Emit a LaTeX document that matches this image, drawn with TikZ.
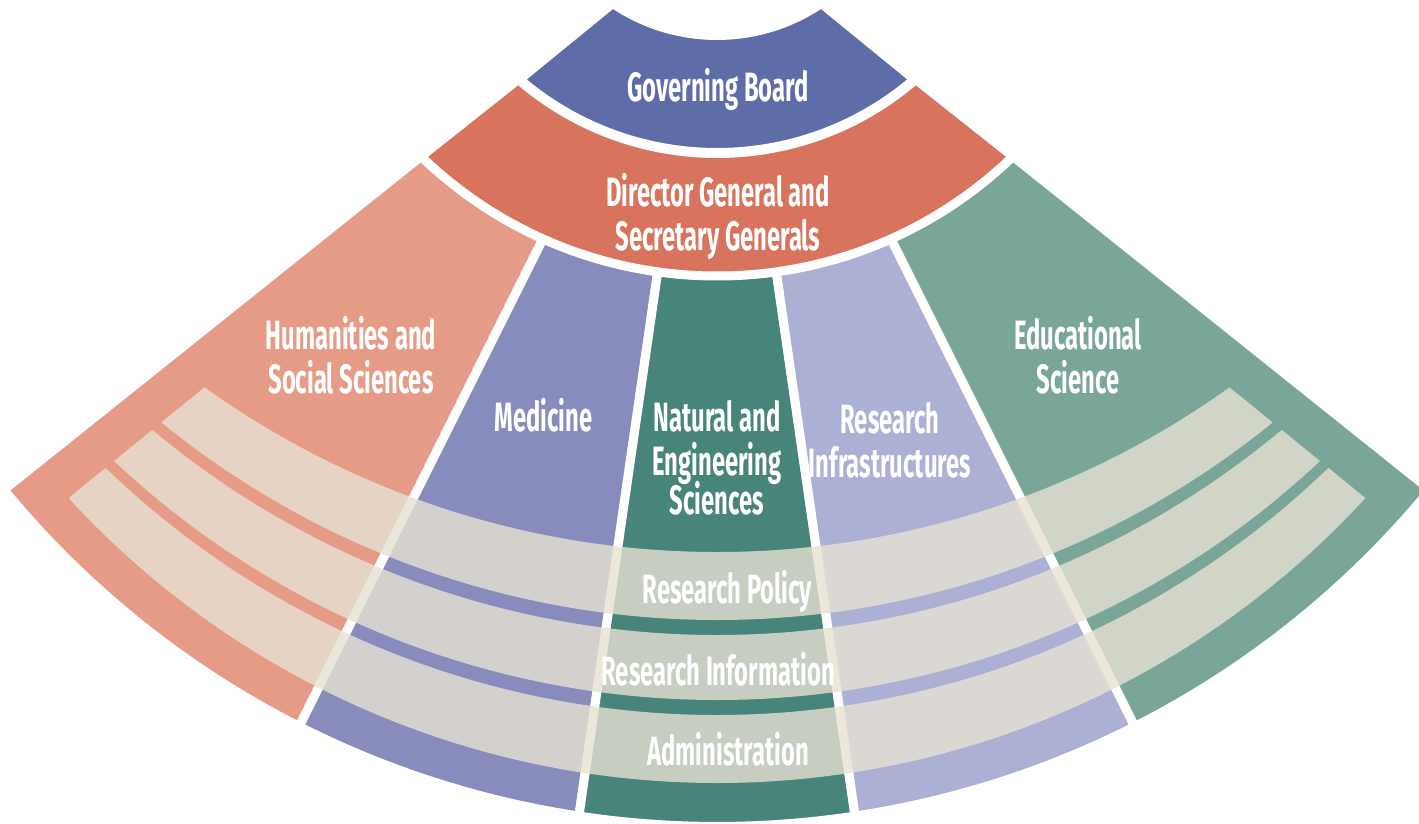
\documentclass[tikz,border=0pt]{standalone}
\usepackage{fontspec}
\setmainfont{Fira Sans}[FakeStretch=0.58]
\usetikzlibrary{calc}

\definecolor{boardblue}{RGB}{94,108,168}
\definecolor{directorred}{RGB}{216,115,94}
\definecolor{humanpink}{RGB}{230,155,135}
\definecolor{medblue}{RGB}{135,140,189}
\definecolor{natgreen}{RGB}{71,133,122}
\definecolor{infralilac}{RGB}{173,176,213}
\definecolor{edugreen}{RGB}{122,166,153}
\definecolor{bandcream}{RGB}{231,225,211}

\begin{document}
\begin{tikzpicture}[x=1pt, y=1pt,
    piece/.style = {draw=white, line width=9pt, line join=round},
    band/.style  = {fill=bandcream, fill opacity=0.8},
    label/.style = {text=white, align=center, inner sep=0pt,
                    font=\bfseries\fontsize{41}{44}\selectfont}]
    \useasboundingbox (0,0) rectangle (1419,-824);
    % centres of the arcs
    \coordinate (hub)        at (717, 150);
    \coordinate (rim)        at (717,  97);
    \coordinate (policytop)  at (717, 328);
    \coordinate (policybot)  at (717, 260);
    \coordinate (infotop)    at (717, 245);
    \coordinate (infobot)    at (717, 180);
    \coordinate (admintop)   at (717, 165);
    \coordinate (adminbot)   at (717,  97);
    % the five divisions
    \path[piece, fill=humanpink]  ($(hub)+(-134:425.5pt)$) -- ($(rim)+(-140.55:923.5pt)$)
        arc[start angle=-140.55, end angle=-116.9, radius=923.5pt]
        -- ($(hub)+(-114.1:425.5pt)$) arc[start angle=-114.1, end angle=-134, radius=425.5pt] -- cycle;
    \path[piece, fill=medblue]    ($(hub)+(-114.1:425.5pt)$) -- ($(rim)+(-116.9:923.5pt)$)
        arc[start angle=-116.9, end angle=-98.6, radius=923.5pt]
        -- ($(hub)+(-98:425.5pt)$) arc[start angle=-98, end angle=-114.1, radius=425.5pt] -- cycle;
    \path[piece, fill=natgreen]   ($(hub)+(-98:425.5pt)$) -- ($(rim)+(-98.6:923.5pt)$)
        arc[start angle=-98.6, end angle=-81.4, radius=923.5pt]
        -- ($(hub)+(-82:425.5pt)$) arc[start angle=-82, end angle=-98, radius=425.5pt] -- cycle;
    \path[piece, fill=infralilac] ($(hub)+(-82:425.5pt)$) -- ($(rim)+(-81.4:923.5pt)$)
        arc[start angle=-81.4, end angle=-63.1, radius=923.5pt]
        -- ($(hub)+(-65.9:425.5pt)$) arc[start angle=-65.9, end angle=-82, radius=425.5pt] -- cycle;
    \path[piece, fill=edugreen]   ($(hub)+(-65.9:425.5pt)$) -- ($(rim)+(-63.1:923.5pt)$)
        arc[start angle=-63.1, end angle=-39.45, radius=923.5pt]
        -- ($(hub)+(-46:425.5pt)$) arc[start angle=-46, end angle=-65.9, radius=425.5pt] -- cycle;
    % director and board
    \path[piece, fill=directorred] ($(hub)+(-130.9:303.5pt)$) -- ($(hub)+(-134:426pt)$)
        arc[start angle=-134, end angle=-46, radius=426pt]
        -- ($(hub)+(-49.1:303.5pt)$) arc[start angle=-49.1, end angle=-130.9, radius=303.5pt] -- cycle;
    \path[piece, fill=boardblue]   ($(hub)+(-124.2:185.5pt)$) -- ($(hub)+(-130.7:302.5pt)$)
        arc[start angle=-130.7, end angle=-49.3, radius=302.5pt]
        -- ($(hub)+(-55.8:185.5pt)$) arc[start angle=-55.8, end angle=-124.2, radius=185.5pt] -- cycle;
    % the three cross bands
    \begin{scope}
      \clip (473.3,-168.3) -- (-66.7,-608.3) -- (-66.7,-900) -- (1500.7,-900)
            -- (1500.7,-608.3) -- (960.7,-168.3) -- cycle;
      \path[band] ($(policytop)+(-146:880pt)$) arc[start angle=-146, end angle=-34, radius=880pt]
          -- ($(policybot)+(-34:880pt)$) arc[start angle=-34, end angle=-146, radius=880pt] -- cycle;
      \path[band] ($(infotop)+(-146:880pt)$) arc[start angle=-146, end angle=-34, radius=880pt]
          -- ($(infobot)+(-34:880pt)$) arc[start angle=-34, end angle=-146, radius=880pt] -- cycle;
      \path[band] ($(admintop)+(-146:880pt)$) arc[start angle=-146, end angle=-34, radius=880pt]
          -- ($(adminbot)+(-34:880pt)$) arc[start angle=-34, end angle=-146, radius=880pt] -- cycle;
    \end{scope}
    % labels
    \node[label, anchor=base] (board)       at (718,-102)   {Governing Board};
    \node[label]              (director)    at (718,-216)   {Director General and\\Secretary Generals};
    \node[label]              (humanities)  at (351,-355)   {Humanities and\\Social Sciences};
    \node[label, anchor=base] (medicine)    at (543.5,-431) {Medicine};
    \node[label]              (natural)     at (717,-458)   {Natural and\\Engineering\\[-5pt]Sciences};
    \node[label]              (infra)       at (890,-440)   {Research\\Infrastructures};
    \node[label]              (educational) at (1078,-355)  {Educational\\Science};
    \node[label, anchor=base] (policy)      at (727.5,-603.5) {Research Policy};
    \node[label, anchor=base] (information) at (718.3,-685) {Research Information};
    \node[label, anchor=base] (admin)       at (728.3,-765) {Administration};
\end{tikzpicture}
\end{document}
